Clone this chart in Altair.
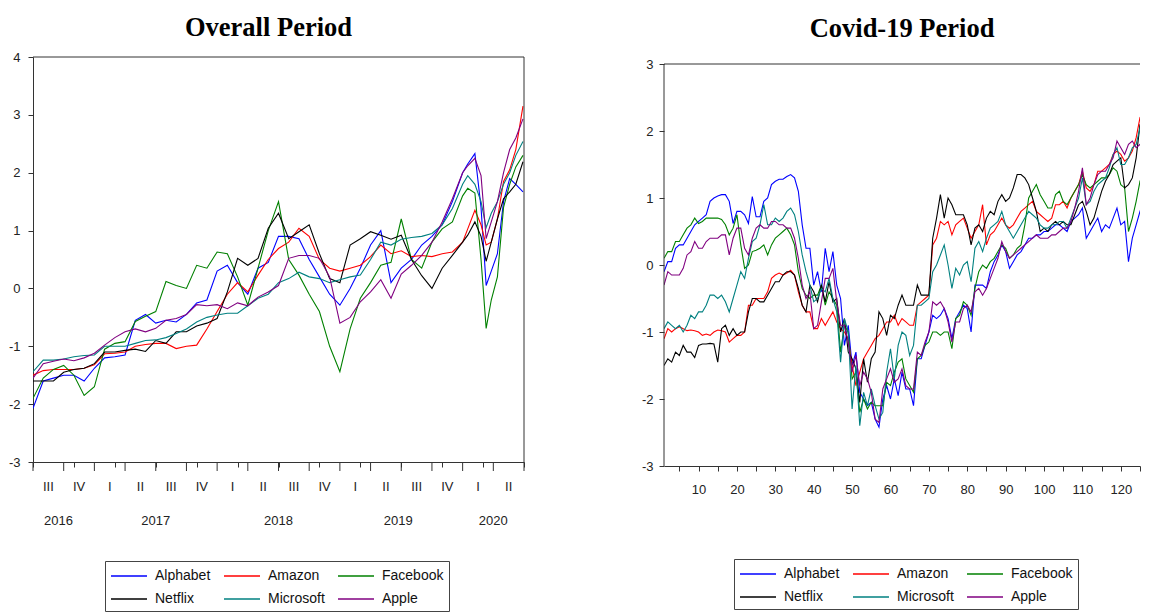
import altair as alt
import pandas as pd

SERIES = ["Alphabet", "Amazon", "Facebook", "Netflix", "Microsoft", "Apple"]
COLORS = ["#0000ff", "#ff0000", "#008000", "#000000", "#008080", "#800080"]

# ---------------- Overall period (x = months since July 2016) ----------------
LEFT_M = list(range(43)) + [42.5, 43.2, 43.8, 44.3, 44.8, 45.4, 46, 46.6, 47.2, 47.9]

L_ALPHABET = [-2.07, -1.6, -1.55, -1.5, -1.5, -1.6, -1.38, -1.2, -1.18, -1.15,
              -0.55, -0.45, -0.6, -0.55, -0.58, -0.45, -0.25, -0.2, 0.3, 0.4,
              0.1, -0.1, 0.35, 0.45, 0.9, 0.9, 0.86, 0.5, 0.2, -0.1,
              -0.29, 0.0, 0.35, 0.75, 1.0, 0.1, 0.35, 0.5, 0.75, 0.9,
              1.1, 1.5, 2.0,
              2.15, 2.33, 1.4, 0.05, 0.3, 0.6, 1.5, 1.9, 1.8, 1.67]
L_AMAZON = [-1.5, -1.42, -1.4, -1.4, -1.4, -1.38, -1.32, -1.13, -1.12, -1.1,
            -1.0, -0.97, -0.95, -0.95, -1.04, -1.0, -0.98, -0.7, -0.4, -0.1,
            0.1, -0.06, 0.23, 0.5, 0.69, 0.8, 1.04, 0.9, 0.5, 0.35,
            0.3, 0.35, 0.4, 0.55, 0.75, 0.6, 0.65, 0.55, 0.57, 0.55,
            0.6, 0.63, 0.8,
            1.03, 1.35, 1.1, 0.75, 0.8, 1.2, 1.85, 2.05, 2.4, 3.15]
L_FACEBOOK = [-1.9, -1.55, -1.4, -1.33, -1.5, -1.85, -1.7, -1.05, -0.95, -0.92,
              -0.57, -0.48, -0.4, 0.12, 0.05, 0.0, 0.4, 0.35, 0.63, 0.6,
              0.2, -0.29, 0.35, 1.0, 1.5, 0.5, 0.23, -0.1, -0.4, -1.0,
              -1.44, -0.7, -0.17, 0.1, 0.4, 0.45, 1.2, 0.5, 0.35, 0.8,
              1.03, 1.15, 1.6,
              1.73, 1.65, 0.5, -0.69, -0.2, 0.2, 1.4, 1.8, 2.1, 2.3]
L_NETFLIX = [-1.6, -1.6, -1.6, -1.45, -1.4, -1.38, -1.3, -1.1, -1.1, -1.07,
             -1.05, -1.09, -0.9, -0.95, -0.75, -0.75, -0.65, -0.6, -0.52, -0.06,
             0.52, 0.4, 0.52, 1.04, 1.3, 0.86, 0.98, 1.1, 0.6, 0.17,
             0.1, 0.75, 0.86, 0.98, 0.92, 0.85, 0.92, 0.5, 0.22, 0.0,
             0.35, 0.57, 0.8,
             0.92, 1.15, 0.9, 0.47, 0.8, 1.2, 1.55, 1.67, 1.8, 2.19]
L_MICROSOFT = [-1.44, -1.24, -1.24, -1.22, -1.18, -1.16, -1.15, -1.0, -1.0, -1.0,
               -0.95, -0.9, -0.89, -0.85, -0.78, -0.7, -0.58, -0.5, -0.46, -0.43,
               -0.43, -0.3, -0.17, -0.1, 0.1, 0.17, 0.28, 0.2, 0.17, 0.1,
               0.15, 0.2, 0.23, 0.5, 0.8, 0.75, 0.85, 0.88, 0.9, 0.95,
               1.1, 1.38, 1.8,
               1.95, 1.8, 1.5, 1.05, 1.3, 1.5, 1.8, 2.0, 2.3, 2.54]
L_APPLE = [-1.55, -1.3, -1.26, -1.22, -1.25, -1.2, -1.12, -0.98, -0.85, -0.75,
           -0.7, -0.75, -0.69, -0.55, -0.52, -0.45, -0.28, -0.3, -0.28, -0.35,
           -0.25, -0.3, -0.15, -0.06, 0.05, 0.52, 0.57, 0.57, 0.52, 0.2,
           -0.6, -0.5, -0.23, -0.06, 0.15, -0.17, 0.25, 0.4, 0.57, 0.8,
           1.15, 1.55, 2.0,
           2.12, 2.25, 1.95, 0.86, 1.15, 1.5, 2.0, 2.4, 2.6, 2.93]

QUARTER_LABELS = ["III", "IV", "I", "II", "III", "IV", "I", "II",
                  "III", "IV", "I", "II", "III", "IV", "I", "II"]
YEAR_LABELS = ["2016", "2017", "2018", "2019", "2020"]
YEAR_MID = [2.5, 12, 24, 35.7, 45]

# ---------------- Covid-19 period (x = observation 1..127) ----------------
R_ALPHABET = [-0.1, 0.05, 0.05, 0.25, 0.3, 0.3, 0.4, 0.5, 0.6, 0.65,
              0.7, 0.75, 0.95, 1.0, 1.03, 1.05, 1.05, 0.95, 0.62, 0.8,
              0.8, 0.75, 0.62, 1.02, 0.72, 0.72, 0.95, 1.0, 1.2, 1.25,
              1.28, 1.28, 1.32, 1.35, 1.3, 1.1, 0.6, 0.25, 0.25, -0.3,
              -0.1, -0.4, 0.25, -0.1, 0.2, -0.3, -0.5, -1.2, -0.9, -1.5,
              -1.3, -1.9, -2.0, -2.1, -2.05, -2.3, -2.42, -2.0, -1.8, -2.0,
              -1.7, -1.95, -1.6, -1.85, -1.85, -2.1, -1.4, -1.4, -1.2, -1.0,
              -0.75, -0.8, -0.75, -0.65, -0.8, -1.1, -0.8, -0.7, -0.6, -0.65,
              -1.0, -0.3, -0.3, -0.3, -0.35, -0.1, 0.05, 0.15, 0.3, 0.2,
              -0.05, 0.05, 0.15, 0.2, 0.3, 0.4, 0.4, 0.45, 0.45, 0.5,
              0.5, 0.55, 0.6, 0.6, 0.55, 0.5, 0.65, 0.7, 0.75, 0.85,
              0.4, 0.5, 0.6, 0.7, 0.5, 0.6, 0.55, 0.7, 0.85, 0.6,
              0.65, 0.05, 0.4, 0.6, 0.8, 0.95, 1.0]
R_AMAZON = [-1.1, -0.95, -1.0, -0.95, -0.92, -0.95, -0.98, -0.97, -0.98, -1.0,
            -1.05, -1.03, -1.05, -1.0, -0.97, -0.98, -1.0, -1.15, -1.1, -1.05,
            -1.05, -1.0, -0.6, -0.6, -0.5, -0.5, -0.5, -0.4, -0.2, -0.15,
            -0.12, -0.15, -0.12, -0.08, -0.15, -0.4, -0.6, -0.7, -0.7, -0.95,
            -0.95, -0.8, -0.9, -0.8, -0.7, -0.85, -0.95, -1.0, -1.1, -1.5,
            -1.8, -1.6, -1.4, -1.3, -1.2, -1.1, -1.05, -0.95, -0.85, -0.85,
            -0.75, -0.9, -0.8, -0.85, -0.9, -0.9, -0.6, -0.55, -0.5, -0.45,
            0.3, 0.4, 0.65, 0.6, 0.65, 0.45, 0.6, 0.65, 0.7, 0.55,
            0.4, 0.5, 0.6, 0.9, 0.3, 0.45, 0.5, 0.6, 0.7, 0.6,
            0.55, 0.6, 0.7, 0.8, 0.85, 0.9, 0.95, 0.8, 0.75, 0.7,
            0.65, 0.7, 0.9, 0.9, 0.95, 0.85, 1.0, 1.1, 1.2, 1.4,
            1.15, 1.1, 1.2, 1.4, 1.4, 1.45, 1.5, 1.65, 1.7, 1.65,
            1.55, 1.6, 1.7, 1.9, 2.2, 2.25, 2.3]
R_FACEBOOK = [0.1, 0.2, 0.2, 0.35, 0.35, 0.45, 0.55, 0.6, 0.7, 0.62,
              0.65, 0.7, 0.7, 0.7, 0.7, 0.68, 0.6, 0.45, 0.55, 0.75,
              0.3, -0.05, 0.0, 0.2, 0.22, 0.25, 0.3, 0.15, 0.3, 0.4,
              0.45, 0.5, 0.55, 0.45, 0.3, -0.1, -0.35, -0.45, -0.5, -0.45,
              -0.45, -0.3, -0.6, -0.4, -0.5, -0.6, -1.3, -0.9, -1.0, -1.7,
              -1.6, -2.2, -2.0, -2.15, -2.05, -2.1, -2.1, -2.1, -1.75, -1.8,
              -1.6, -1.45, -1.4, -1.7, -1.8, -1.9, -1.4, -1.35, -1.2, -1.15,
              -1.0, -1.0, -1.05, -1.0, -1.0, -1.25, -0.8, -0.75, -0.55, -0.6,
              -0.75, -0.35, -0.1, 0.0, -0.05, 0.05, 0.1, 0.2, 0.3, 0.25,
              0.1, 0.15, 0.25, 0.3, 0.6, 1.0, 1.1, 1.2, 1.05, 0.95,
              0.85, 0.85, 1.05, 1.1, 0.95, 0.9, 1.0, 1.1, 1.2, 1.35,
              1.2, 1.15, 1.2, 1.25, 1.3, 1.3, 1.35, 1.45, 1.4, 1.2,
              1.15, 0.5, 0.7, 0.95, 1.25, 1.2, 1.1]
R_NETFLIX = [-1.5, -1.4, -1.45, -1.3, -1.35, -1.2, -1.3, -1.3, -1.38, -1.2,
             -1.18, -1.18, -1.17, -1.18, -1.45, -0.95, -0.9, -1.05, -0.95, -1.05,
             -1.0, -1.0, -0.7, -0.5, -0.5, -0.55, -0.55, -0.45, -0.35, -0.25,
             -0.25, -0.15, -0.1, -0.1, -0.15, -0.35, -0.6, -0.7, -0.3, -0.4,
             -0.55, -0.3, -0.55, -0.25, -0.55, -0.5, -1.0, -0.8, -1.3, -1.4,
             -1.55, -2.05, -1.4, -1.75, -1.4, -1.3, -0.7, -0.8, -1.05, -0.75,
             -0.8, -0.6, -0.45, -0.6, -0.6, -0.6, -0.3, -0.45, -0.45, -0.45,
             0.4, 0.7, 1.05, 0.7, 1.0, 0.9, 0.75, 0.75, 0.75, 0.6,
             0.3, 0.55, 0.6, 0.5, 0.7, 0.8, 0.75, 0.95, 1.05, 0.95,
             1.0, 1.15, 1.35, 1.35, 1.3, 1.2, 1.0, 0.8, 0.5, 0.55,
             0.5, 0.6, 0.65, 0.6, 0.65, 0.6, 0.6, 0.75, 0.9, 0.95,
             0.8, 0.6, 0.7, 0.9, 1.1, 1.25, 1.35, 1.5, 1.55, 1.6,
             1.15, 1.2, 1.3, 1.6, 2.1, 1.95, 2.0]
R_MICROSOFT = [-0.95, -0.85, -0.9, -0.95, -0.9, -1.0, -0.9, -0.75, -0.8, -0.7,
               -0.7, -0.6, -0.45, -0.45, -0.5, -0.45, -0.55, -0.7, -0.5, -0.3,
               -0.1, -0.2, 0.1, 0.35, 0.4, 0.6, 0.9, 0.6, 0.6, 0.7,
               0.65, 0.7, 0.8, 0.85, 0.75, 0.5, 0.15, -0.1, -0.3, -0.55,
               -0.5, -0.35, -0.4, -0.2, -0.5, -0.7, -1.45, -0.8, -1.0, -2.15,
               -1.5, -2.4, -1.9, -2.1, -1.85, -2.1, -2.3, -2.2, -1.6, -1.25,
               -1.7, -1.2, -1.0, -1.05, -1.35, -1.2, -0.6, -0.6, -0.55, -0.5,
               -0.1, 0.0, 0.15, 0.3, 0.0, -0.35, -0.05, -0.15, 0.0, 0.05,
               -0.25, 0.25, 0.35, 0.2, 0.4, 0.55, 0.6, 0.65, 0.8, 0.6,
               0.5, 0.4, 0.5, 0.6, 0.7, 0.8, 0.75, 0.7, 0.6, 0.55,
               0.55, 0.6, 0.6, 0.65, 0.65, 0.55, 0.7, 0.85, 1.0, 1.3,
               0.9, 0.95, 1.1, 1.2, 1.25, 1.3, 1.45, 1.65, 1.75, 1.5,
               1.5, 1.6, 1.75, 1.8, 2.05, 2.0, 2.1]
R_APPLE = [-0.3, -0.1, -0.15, -0.15, -0.15, -0.05, 0.15, 0.2, 0.35, 0.25,
           0.25, 0.35, 0.4, 0.4, 0.4, 0.45, 0.45, 0.15, 0.4, 0.55,
           0.55, 0.25, 0.15, 0.4, 0.55, 0.6, 0.55, 0.55, 0.65, 0.65,
           0.6, 0.6, 0.55, 0.55, 0.4, 0.1, -0.3, -0.5, -0.4, -0.95,
           -0.9, -0.55, -0.2, -0.2, -0.05, -0.55, -0.9, -0.9, -1.15, -1.6,
           -1.35, -1.8, -1.6, -1.7, -1.9, -2.3, -2.35, -1.85, -1.7, -1.55,
           -1.75, -1.7, -1.55, -1.8, -1.85, -1.85, -1.3, -1.35, -1.15, -1.0,
           -0.55, -0.6, -0.55, -0.65, -0.85, -1.15, -0.85, -0.85, -0.65, -0.6,
           -0.7, -0.4, -0.35, -0.45, -0.35, -0.2, -0.05, 0.1, 0.35, 0.2,
           0.1, 0.15, 0.2, 0.25, 0.3, 0.35, 0.4, 0.45, 0.4, 0.4,
           0.4, 0.45, 0.45, 0.5, 0.55, 0.55, 0.65, 0.85, 1.1, 1.45,
           0.9, 1.0, 1.2, 1.35, 1.4, 1.4, 1.5, 1.6, 1.85, 1.75,
           1.65, 1.8, 1.85, 1.75, 1.8, 1.8, 1.85]

# ---------------- build tables ----------------
left_rows = []
for name, vals in zip(SERIES, [L_ALPHABET, L_AMAZON, L_FACEBOOK, L_NETFLIX, L_MICROSOFT, L_APPLE]):
    for i, (m, v) in enumerate(zip(LEFT_M, vals)):
        left_rows.append({"series": name, "m": m, "v": v, "i": i})
dfL = pd.DataFrame(left_rows)

right_rows = []
for name, vals in zip(SERIES, [R_ALPHABET, R_AMAZON, R_FACEBOOK, R_NETFLIX, R_MICROSOFT, R_APPLE]):
    for k, v in enumerate(vals):
        right_rows.append({"series": name, "obs": k + 1, "v": v})
dfR = pd.DataFrame(right_rows)

dfQ = pd.DataFrame({"m": [1.5 + 3 * k for k in range(len(QUARTER_LABELS))], "label": QUARTER_LABELS})
dfQT = pd.DataFrame({"m": [3 * k for k in range(17)]})
dfY = pd.DataFrame({"m": YEAR_MID, "label": YEAR_LABELS})

FONT = "Liberation Sans, Arial, sans-serif"
TFONT = "Liberation Serif, Times New Roman, serif"
AX = "#333333"
TXT = "#222222"

W1, H1 = 491, 405
W2, H2 = 476, 409
R_TOP = 3 + 7 / 67.0


def legend(x, y):
    return alt.Legend(title=None, orient="none", legendX=x, legendY=y, columns=3,
                      direction="horizontal",
                      symbolType="M-1,0H3", symbolSize=324, symbolStrokeWidth=1.5,
                      labelFont=FONT, labelFontSize=14, labelColor="#111111",
                      strokeColor="#444444", fillColor="white", padding=5,
                      rowPadding=6, columnPadding=10, labelOffset=25)


def title(text, dx, offset):
    return alt.TitleParams(text, font=TFONT, fontSize=26.5, fontWeight="bold", color="black",
                           anchor="middle", frame="group", offset=offset, dx=dx)


LBL = "'' + datum.value"

# ---------------- left chart ----------------
xL = alt.X("m:Q", scale=alt.Scale(domain=[0, 48], nice=False, zero=False),
           axis=alt.Axis(title=None, values=list(range(49)), labels=False, tickSize=5,
                         grid=False, domainColor=AX, tickColor=AX))
yL = alt.Y("v:Q", scale=alt.Scale(domain=[-3, 4], nice=False, zero=False),
           axis=alt.Axis(title=None, values=list(range(-3, 5)), tickSize=5, labelPadding=8,
                         labelExpr=LBL, grid=False, domainColor=AX, tickColor=AX))

left_lines = alt.Chart(dfL).mark_line(strokeWidth=1.1, clip=True).encode(
    x=xL, y=yL,
    color=alt.Color("series:N", scale=alt.Scale(domain=SERIES, range=COLORS), legend=legend(72, 504)),
    order="i:Q",
)
left_qticks = alt.Chart(dfQT).mark_rule(color=AX).encode(
    x="m:Q", y=alt.value(H1), y2=alt.value(H1 + 9))
left_qlabels = alt.Chart(dfQ).mark_text(font=FONT, fontSize=13, color=TXT, baseline="middle").encode(
    x="m:Q", y=alt.value(H1 + 25), text="label:N")
left_ylabels = alt.Chart(dfY).mark_text(font=FONT, fontSize=13, color=TXT, baseline="middle").encode(
    x="m:Q", y=alt.value(H1 + 59), text="label:N")
left_top = alt.Chart(pd.DataFrame({"v": [4]})).mark_rule(color=AX).encode(
    y="v:Q", x=alt.value(0), x2=alt.value(W1))
left_right = alt.Chart(pd.DataFrame({"m": [48], "v": [-3], "v2": [4]})).mark_rule(color=AX).encode(
    x="m:Q", y="v:Q", y2="v2:Q")

left = alt.layer(left_lines, left_qticks, left_qlabels, left_ylabels, left_top, left_right).properties(
    width=W1, height=H1, title=title("Overall Period", -10, 10))

# ---------------- right chart ----------------
xR = alt.X("obs:Q", scale=alt.Scale(domain=[1, 125], nice=False, zero=False),
           axis=alt.Axis(title=None, values=list(range(5, 126, 5)), tickSize=5, labelPadding=12,
                         labelExpr="datum.value % 10 == 0 ? datum.label : ''",
                         grid=False, domainColor=AX, tickColor=AX))
yR = alt.Y("v:Q", scale=alt.Scale(domain=[-3, R_TOP], nice=False, zero=False),
           axis=alt.Axis(title=None, values=list(range(-3, 4)), tickSize=5, labelPadding=6,
                         labelExpr=LBL, domain=False, grid=False, tickColor=AX))

right_lines = alt.Chart(dfR).mark_line(strokeWidth=1.1, clip=True).encode(
    x=xR, y=yR,
    color=alt.Color("series:N", scale=alt.Scale(domain=SERIES, range=COLORS), legend=legend(70, 502)),
)
right_top = alt.Chart(pd.DataFrame({"v": [3]})).mark_rule(color=AX).encode(
    y="v:Q", x=alt.value(0), x2=alt.value(W2))
right_left = alt.Chart(pd.DataFrame({"v": [-3], "v2": [3]})).mark_rule(color=AX).encode(
    x=alt.value(0), y="v:Q", y2="v2:Q")

right = alt.layer(right_lines, right_top, right_left).properties(
    width=W2, height=H2, title=title("Covid-19 Period", 0, 15))

chart = alt.hconcat(left, right, spacing=116).resolve_scale(
    color="independent", x="independent", y="independent"
).properties(
    padding={"top": 6, "left": 0, "right": 0, "bottom": 0}
).configure_view(stroke=None).configure_axis(
    labelFont=FONT, labelFontSize=13, labelColor=TXT
)

chart.save("out.html", embed_options={"renderer": "svg", "actions": False})
